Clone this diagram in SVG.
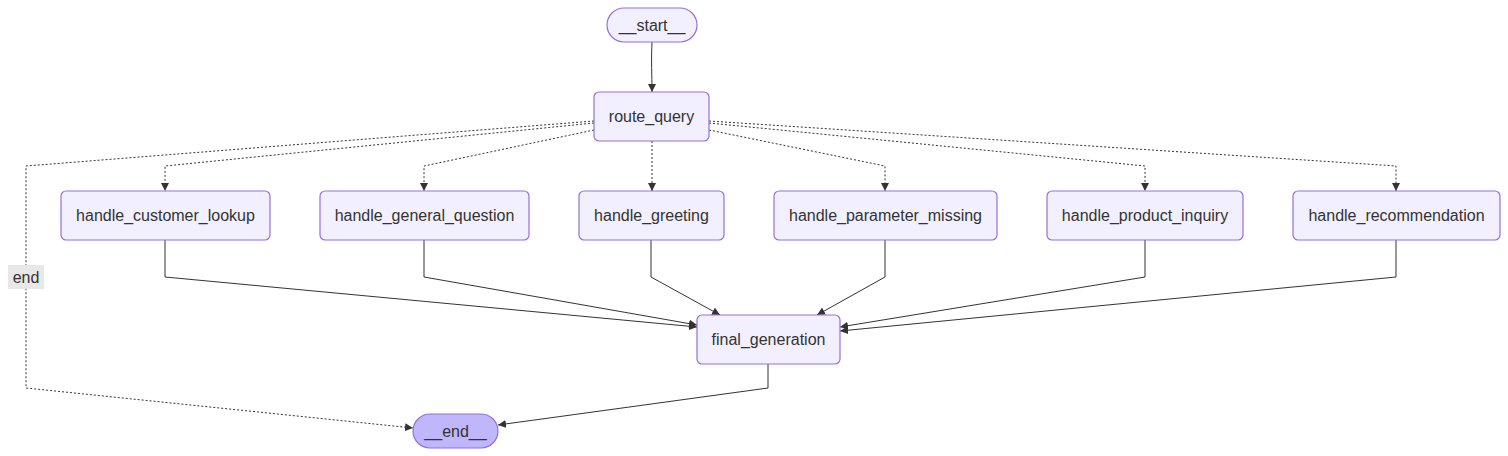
<svg xmlns="http://www.w3.org/2000/svg" width="1508" height="456" viewBox="0 0 1508 456">
<defs>
<marker id="arr" viewBox="0 0 10 10" refX="10" refY="5" markerWidth="8" markerHeight="8" markerUnits="userSpaceOnUse" orient="auto">
<path d="M0,0 L10,5 L0,10 z" fill="#333"/>
</marker>
</defs>
<style>
.node rect{fill:#f2f0ff;stroke:#9370db;stroke-width:1.2}
.node text{font-family:"Liberation Sans",Arial,sans-serif;font-size:16px;fill:#333;text-anchor:middle;dominant-baseline:central}
.e{fill:none;stroke:#333;stroke-width:1;marker-end:url(#arr)}
.d{stroke-dasharray:2 2}
.lbl{font-family:"Liberation Sans",Arial,sans-serif;font-size:16px;fill:#333;text-anchor:middle;dominant-baseline:central}
</style>
<rect width="1508" height="456" fill="#ffffff"/>
<g id="connectors">
<path class="e" d="M652,42 C651,60 652,75 652,92"/>
<path class="e d" d="M594,123 L165,166 L165,191"/>
<path class="e d" d="M594,130 L424,166 L424,191"/>
<path class="e d" d="M652,141 L652,191"/>
<path class="e d" d="M709,130 L885,166 L885,191"/>
<path class="e d" d="M709,123 L1145,166 L1145,191"/>
<path class="e d" d="M709,121 L1396,166 L1396,191"/>
<path class="e d" d="M594,121 L26,166 L26,388 L413,428"/>
<path class="e" d="M165,240 L165,277 L697,327"/>
<path class="e" d="M424,240 L424,277 L697,325"/>
<path class="e" d="M651,240 L651,277 L720,315"/>
<path class="e" d="M885,240 L885,277 L817,315"/>
<path class="e" d="M1145,240 L1145,277 L840,327"/>
<path class="e" d="M1396,240 L1396,277 L840,331"/>
<path class="e" d="M768,364 L768,388 L498,425"/>
<rect x="8" y="265" width="36" height="24" fill="#e8e8e8"/>
<text class="lbl" x="26" y="277">end</text>
</g>
<g id="start" class="node"><rect x="607" y="8" width="90" height="34" rx="17"/><text x="652" y="25">__start__</text></g>
<g id="route_query" class="node"><rect x="594" y="92" width="115" height="49" rx="5"/><text x="651.5" y="116.5">route_query</text></g>
<g id="handle_customer_lookup" class="node"><rect x="61" y="191" width="209" height="49" rx="5"/><text x="165.5" y="215.5">handle_customer_lookup</text></g>
<g id="handle_general_question" class="node"><rect x="320" y="191" width="209" height="49" rx="5"/><text x="424.5" y="215.5">handle_general_question</text></g>
<g id="handle_greeting" class="node"><rect x="579" y="191" width="145" height="49" rx="5"/><text x="651.5" y="215.5">handle_greeting</text></g>
<g id="handle_parameter_missing" class="node"><rect x="774" y="191" width="223" height="49" rx="5"/><text x="885.5" y="215.5">handle_parameter_missing</text></g>
<g id="handle_product_inquiry" class="node"><rect x="1047" y="191" width="196" height="49" rx="5"/><text x="1145" y="215.5">handle_product_inquiry</text></g>
<g id="handle_recommendation" class="node"><rect x="1293" y="191" width="207" height="49" rx="5"/><text x="1396.5" y="215.5">handle_recommendation</text></g>
<g id="final_generation" class="node"><rect x="697" y="315" width="143" height="49" rx="5"/><text x="768.5" y="339.5">final_generation</text></g>
<g id="end" class="node"><rect x="413" y="414" width="85" height="34" rx="17" style="fill:#bfb6fc"/><text x="455.5" y="431">__end__</text></g>
</svg>
